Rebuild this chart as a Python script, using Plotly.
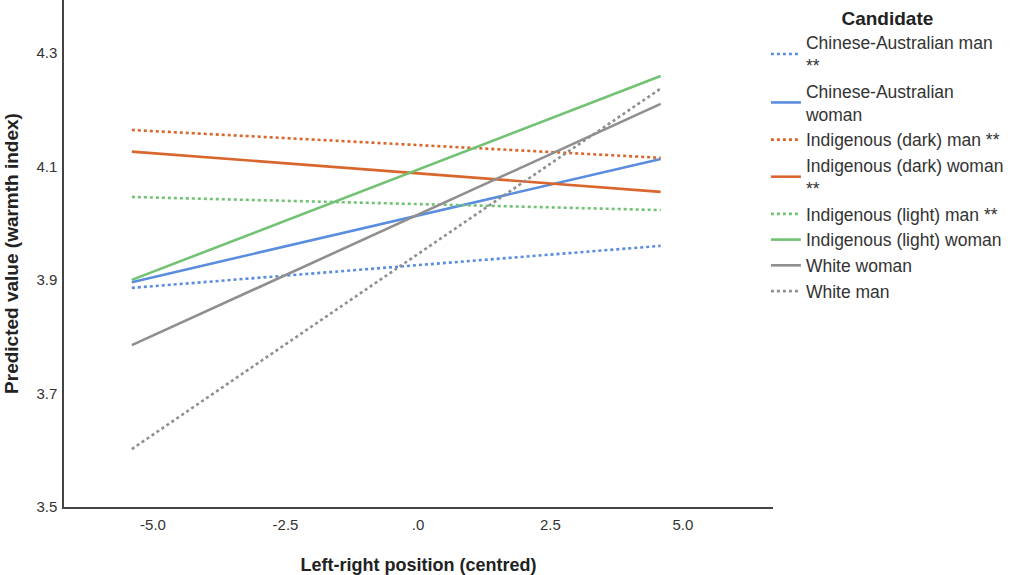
import plotly.graph_objects as go

x_vals = [-5.40, 4.58]

candidates = [
    "Chinese-Australian man<br>**",
    "Chinese-Australian<br>woman",
    "Indigenous (dark) man **",
    "Indigenous (dark) woman<br>**",
    "Indigenous (light) man **",
    "Indigenous (light) woman",
    "White woman",
    "White man",
]
y_left = [3.886, 3.896, 4.164, 4.126, 4.046, 3.900, 3.785, 3.602]
y_right = [3.960, 4.113, 4.115, 4.055, 4.023, 4.259, 4.210, 4.237]
colors = ["#5b8ddf", "#5b8ddf", "#d9662c", "#d9662c", "#72c274", "#72c274", "#8f8f8f", "#8f8f8f"]
dashes = ["dot", "solid", "dot", "solid", "dot", "solid", "solid", "dot"]

x_ticks = [-5.0, -2.5, 0.0, 2.5, 5.0]
x_tick_labels = ["-5.0", "-2.5", ".0", "2.5", "5.0"]
y_ticks = [3.5, 3.7, 3.9, 4.1, 4.3]
y_tick_labels = ["3.5", "3.7", "3.9", "4.1", "4.3"]

fig = go.Figure()
for name, yl, yr, c, d in zip(candidates, y_left, y_right, colors, dashes):
    fig.add_trace(go.Scatter(
        x=x_vals, y=[yl, yr], mode="lines", name=name,
        line=dict(color=c, width=2.6, dash=d),
    ))

font_family = "Liberation Sans, Arial, sans-serif"
fig.update_layout(
    width=1024, height=575,
    margin=dict(l=64, r=251, t=0, b=68, autoexpand=False),
    paper_bgcolor="white", plot_bgcolor="white",
    font=dict(family=font_family, size=14, color="#333333"),
    showlegend=True,
    legend=dict(
        x=0.99, xanchor="left", y=1.0, yanchor="top",
        font=dict(size=17.5, color="#333333"),
        title=dict(text="<b>Candidate</b>", font=dict(size=19, color="#222222"), side="top center"),
        itemwidth=30,
        bgcolor="rgba(0,0,0,0)",
    ),
    xaxis=dict(
        range=[-6.68, 6.70],
        tickvals=x_ticks, ticktext=x_tick_labels,
        showgrid=False, zeroline=False, automargin=False,
        showline=True, linecolor="#444444", linewidth=1.5,
        ticks="", ticklen=0, ticklabelstandoff=3,
        tickfont=dict(size=15, color="#333333"),
        title=dict(text="<b>Left-right position (centred)</b>", font=dict(size=18, color="#222222"), standoff=29),
    ),
    yaxis=dict(
        range=[3.5, 4.393],
        tickvals=y_ticks, ticktext=y_tick_labels,
        showgrid=False, zeroline=False, automargin=False,
        showline=True, linecolor="#444444", linewidth=1.5,
        ticks="", ticklen=0, ticklabelstandoff=2,
        tickfont=dict(size=15, color="#333333"),
        title=dict(text="<b>Predicted value (warmth index)</b>", font=dict(size=19, color="#222222"), standoff=13),
    ),
)

fig.write_html("out.html", config={"displayModeBar": False},
               post_script="document.body.style.margin='0';")
